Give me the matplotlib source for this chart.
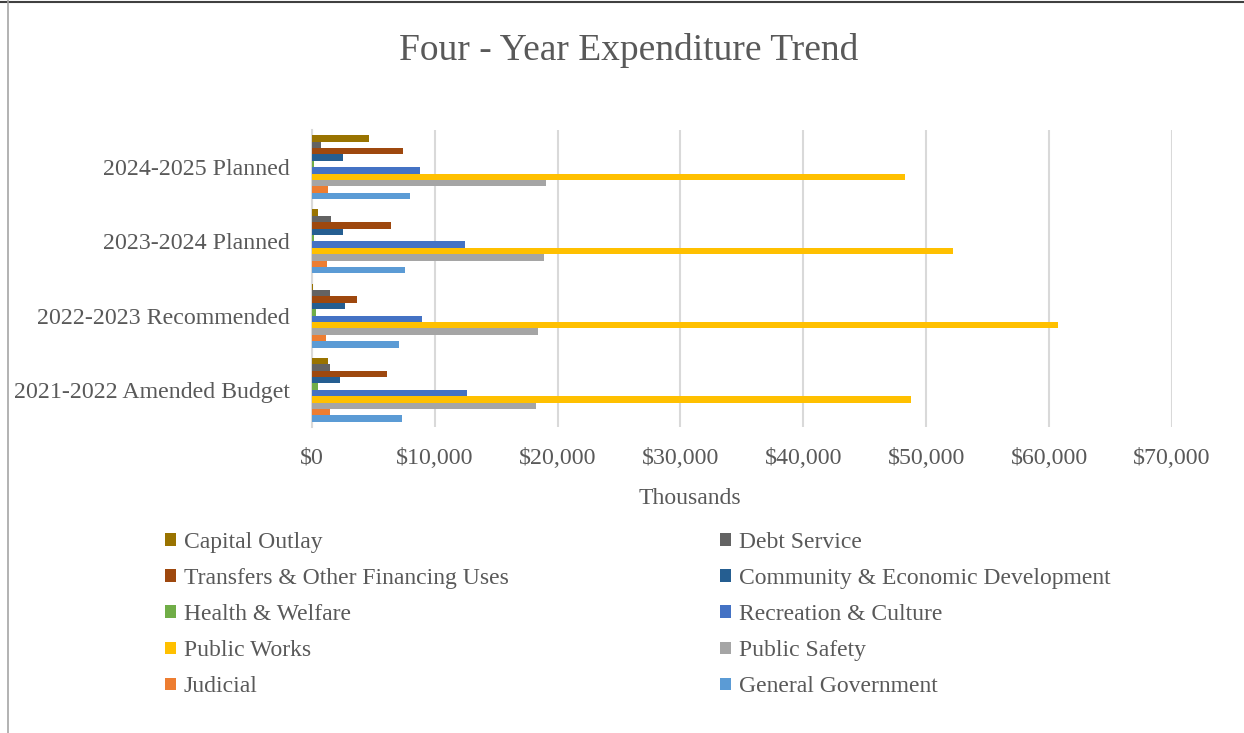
import numpy as np
import matplotlib
matplotlib.use('Agg')
import matplotlib.pyplot as plt
from matplotlib.patches import Patch
from matplotlib.lines import Line2D
from matplotlib.ticker import FuncFormatter

plt.rcParams['font.family'] = ['Liberation Serif', 'DejaVu Serif']

# budget years, bottom to top
years = ['2021-2022 Amended Budget', '2022-2023 Recommended',
         '2023-2024 Planned', '2024-2025 Planned']

# expenditure by function (thousands of $), one value per year above
general_government = [7320, 7070, 7560, 8020]
judicial = [1460, 1190, 1240, 1300]
public_safety = [18260, 18400, 18900, 19100]
public_works = [48750, 60750, 52220, 48300]
recreation_culture = [12650, 8940, 12490, 8830]
health_welfare = [510, 320, 160, 160]
community_econ_dev = [2330, 2710, 2540, 2520]
transfers_other = [6150, 3710, 6470, 7450]
debt_service = [1520, 1460, 1590, 760]
capital_outlay = [1330, 100, 490, 4700]

series = [
    ('General Government', general_government, '#5B9BD5'),
    ('Judicial', judicial, '#ED7D31'),
    ('Public Safety', public_safety, '#A5A5A5'),
    ('Public Works', public_works, '#FFC000'),
    ('Recreation & Culture', recreation_culture, '#4472C4'),
    ('Health & Welfare', health_welfare, '#70AD47'),
    ('Community & Economic Development', community_econ_dev, '#255E91'),
    ('Transfers & Other Financing Uses', transfers_other, '#9E480E'),
    ('Debt Service', debt_service, '#636363'),
    ('Capital Outlay', capital_outlay, '#997300'),
]

text_color = '#595959'
grid_color = '#D9D9D9'

W, H = 1244, 733
fig = plt.figure(figsize=(W / 100, H / 100), dpi=100)
ax = fig.add_axes([311.7 / W, 1 - 427 / H, (1172 - 311.7) / W, (427 - 130) / H])

y = np.arange(len(years))
group = 0.862
bar_h = group / len(series)
for k, (name, vals, color) in enumerate(series):
    ax.barh(y - group / 2 + (k + 0.5) * bar_h, vals, height=bar_h,
            color=color, label=name, zorder=3)

ax.set_xlim(0, 70000)
ax.set_ylim(-0.5, len(years) - 0.5)
ax.set_xticks(np.arange(0, 70001, 10000))
ax.xaxis.set_major_formatter(FuncFormatter(lambda v, p: f'${v:,.0f}'))
ax.set_yticks(y)
ax.set_yticklabels(years)
ax.grid(axis='x', color=grid_color, linewidth=1.5, zorder=0)
ax.tick_params(axis='both', length=0, labelsize=17.2, labelcolor=text_color)
ax.tick_params(axis='x', pad=15)
ax.tick_params(axis='y', pad=16)
for side in ['top', 'right', 'bottom']:
    ax.spines[side].set_visible(False)
ax.spines['left'].set_color(grid_color)
ax.spines['left'].set_linewidth(1.5)

fig.text(629 / W, 1 - 51 / H, 'Four - Year Expenditure Trend', ha='center',
         va='center', fontsize=27, color=text_color)
fig.text(690 / W, 1 - 499 / H, 'Thousands', ha='center', va='center',
         fontsize=17, color=text_color)

# two-column legend, written as two legends so each column sits exactly
by_name = {name: color for name, _, color in series}
left_col = ['Capital Outlay', 'Transfers & Other Financing Uses',
            'Health & Welfare', 'Public Works', 'Judicial']
right_col = ['Debt Service', 'Community & Economic Development',
             'Recreation & Culture', 'Public Safety', 'General Government']
for names, x0 in [(left_col, 165), (right_col, 720)]:
    handles = [Patch(facecolor=by_name[n], edgecolor='none') for n in names]
    leg = fig.legend(handles, names, loc='upper left',
                     bbox_to_anchor=(x0 / W, 1 - 532 / H), frameon=False,
                     fontsize=17, handlelength=0.45, handleheight=0.45,
                     handletextpad=0.35, labelspacing=0.64, borderpad=0,
                     borderaxespad=0)
    for t in leg.get_texts():
        t.set_color(text_color)

# chart area border (top and left edges)
fig.add_artist(Line2D([0, 1], [1 - 1.5 / H, 1 - 1.5 / H], color='#404040',
                      linewidth=1.5, transform=fig.transFigure))
fig.add_artist(Line2D([8 / W, 8 / W], [0, 1], color='#A6A6A6',
                      linewidth=1.2, transform=fig.transFigure))

fig.savefig('out.png', dpi=100, facecolor='white')
